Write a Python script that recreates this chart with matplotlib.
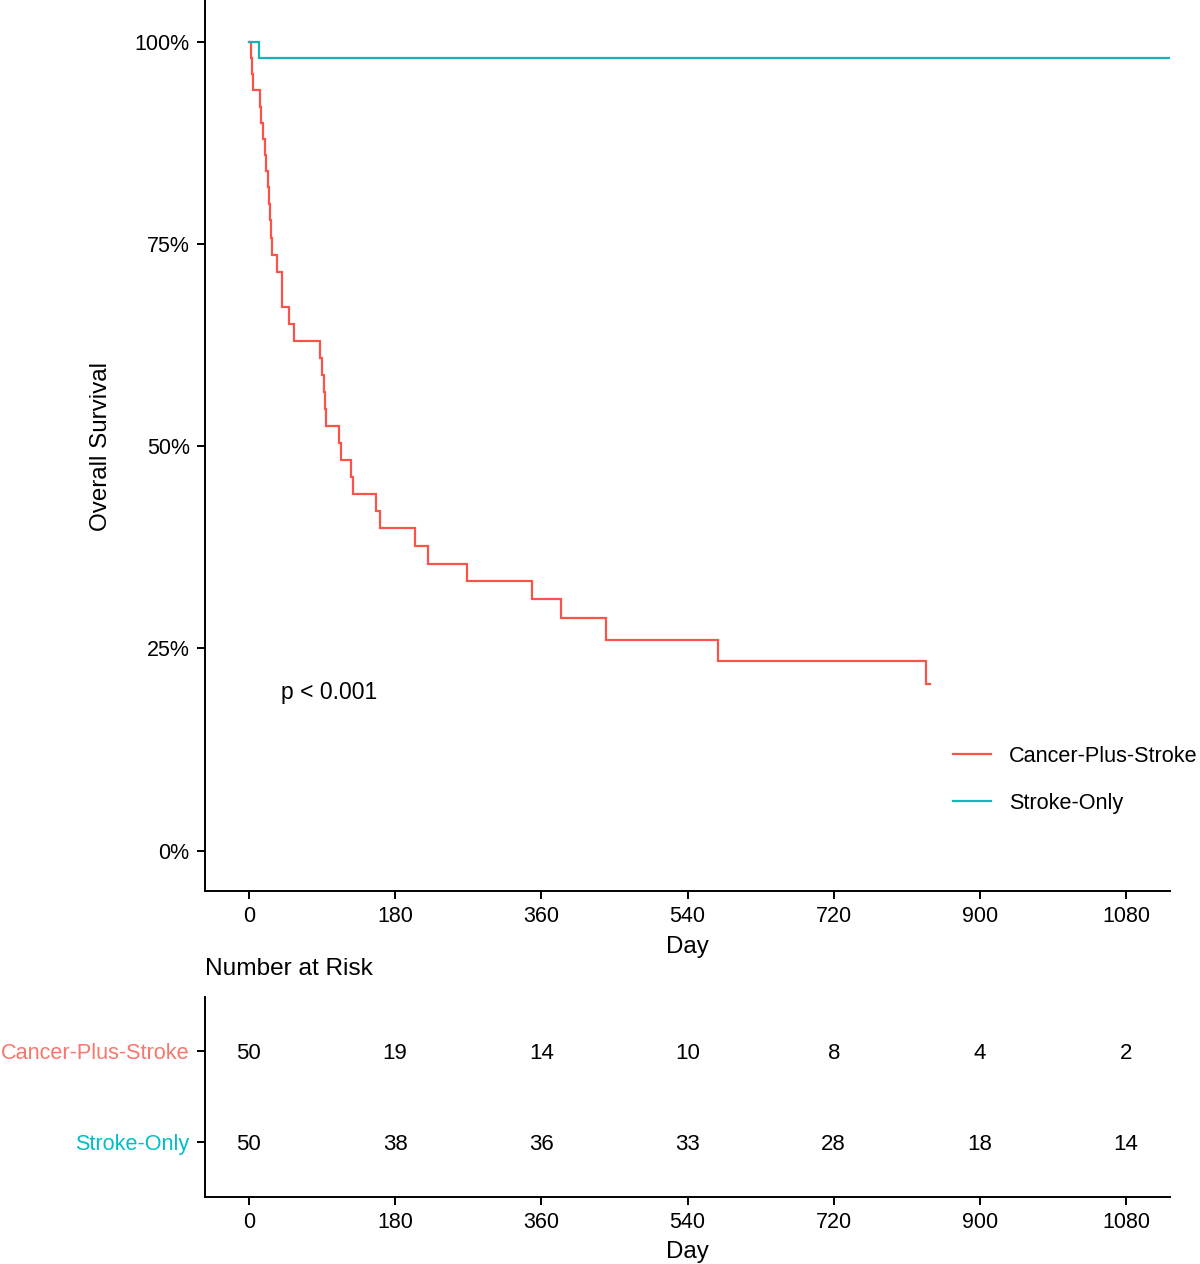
import matplotlib
matplotlib.use("Agg")
import matplotlib.pyplot as plt
from matplotlib.ticker import FuncFormatter

plt.rcParams['font.family'] = ['Liberation Sans', 'DejaVu Sans']
plt.rcParams['font.size'] = 15.5

# Kaplan-Meier estimates (days, survival)
cancer_days = [0, 3, 4, 5, 13.5, 15.5, 17.5, 19.5, 20.5, 23, 24.5, 25.5, 27, 29, 35,
               41, 49, 56, 88, 90.5, 92.5, 94, 95, 111, 113, 125.5, 128.5, 156, 162,
               204, 221, 268, 348.5, 384.5, 440, 578, 833.5, 838.5]
cancer_surv = [1.0, 0.98, 0.96, 0.94, 0.92, 0.90, 0.88, 0.86, 0.84, 0.82, 0.80, 0.78, 0.758,
               0.736, 0.715, 0.672, 0.651, 0.630, 0.609, 0.588, 0.567, 0.546, 0.525,
               0.504, 0.483, 0.462, 0.441, 0.420, 0.399, 0.377, 0.355, 0.333, 0.311,
               0.287, 0.260, 0.234, 0.206, 0.206]
stroke_days = [0, 12.5, 1140]
stroke_surv = [1.0, 0.98, 0.98]

groups = ['Cancer-Plus-Stroke', 'Stroke-Only']
line_colors = ['#F9534A', '#14B4B8']
text_colors = ['#F8766D', '#00BFC4']

risk_days = [0, 180, 360, 540, 720, 900, 1080]
risk_cancer = [50, 19, 14, 10, 8, 4, 2]
risk_stroke = [50, 38, 36, 33, 28, 18, 14]

pval_text = 'p < 0.001'

TICK_FS = 15.5
TITLE_FS = 17.4
GROUP_FS = 15.6

fig = plt.figure(figsize=(12, 12.64), dpi=100)

W, H = 1200, 1264
ax = fig.add_axes([205 / W, 1 - 891 / H, 965 / W, 889.5 / H])
ax_risk = fig.add_axes([205 / W, 1 - 1196.7 / H, 965 / W, 200 / H])

ax.step(cancer_days, cancer_surv, where='post', color=line_colors[0], lw=1.6,
        label=groups[0], solid_joinstyle='miter')
ax.step(stroke_days, stroke_surv, where='post', color=line_colors[1], lw=1.6,
        label=groups[1], solid_joinstyle='miter')

ax.text(39, 0.196, pval_text, ha='left', va='center', fontsize=16.5)

ax.set_xlim(-54, 1134)
ax.set_ylim(-0.05, 1.05)
ax.set_xticks(risk_days)
ax.set_yticks([0, 0.25, 0.5, 0.75, 1.0])
ax.yaxis.set_major_formatter(FuncFormatter(lambda v, p: f'{int(round(v * 100))}%'))
ax.set_xlabel('Day', labelpad=6, fontsize=TITLE_FS)
ax.set_ylabel('Overall Survival', labelpad=16, fontsize=TITLE_FS)

for a in (ax, ax_risk):
    for s in ('top', 'right'):
        a.spines[s].set_visible(False)
    for s in ('left', 'bottom'):
        a.spines[s].set_linewidth(1.4)
    a.tick_params(width=1.4, length=6, pad=5, labelsize=TICK_FS, colors='black')

fig.legend(loc='upper left', bbox_to_anchor=(953 / W, 1 - 746 / H), frameon=False,
           borderpad=0, borderaxespad=0, handlelength=1.75, handletextpad=0.85,
           labelspacing=1.2, fontsize=GROUP_FS)

# risk table
rows = [2, 1]
for n_c, n_s, d in zip(risk_cancer, risk_stroke, risk_days):
    ax_risk.text(d, rows[0], str(n_c), ha='center', va='center_baseline', fontsize=16)
    ax_risk.text(d, rows[1], str(n_s), ha='center', va='center_baseline', fontsize=16)
ax_risk.set_xlim(-54, 1134)
ax_risk.set_ylim(0.4, 2.6)
ax_risk.set_xticks(risk_days)
ax_risk.set_yticks(rows)
ax_risk.set_yticklabels(groups, fontsize=GROUP_FS)
for lab, c in zip(ax_risk.get_yticklabels(), text_colors):
    lab.set_color(c)
ax_risk.set_xlabel('Day', labelpad=6, fontsize=TITLE_FS)
fig.text(205 / W, 1 - 969 / H, 'Number at Risk', ha='left', va='center', fontsize=17.6)

fig.savefig('out.png', dpi=100)
